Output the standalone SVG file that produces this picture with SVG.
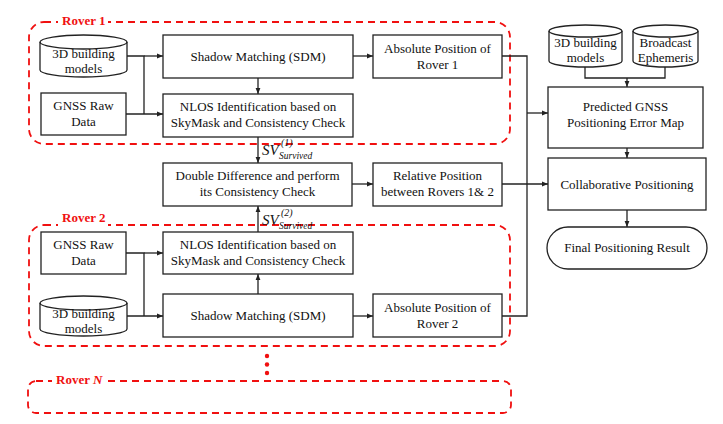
<svg xmlns="http://www.w3.org/2000/svg" width="723" height="424" viewBox="0 0 723 424">
<style>
.box{fill:#fff;stroke:#222;stroke-width:1.3}
.t{font-family:'Liberation Serif','DejaVu Serif',serif;font-size:13px;fill:#111;text-anchor:middle}
.rv{fill:none;stroke:#f01010;stroke-width:1.8;stroke-dasharray:7,5}
.rl{font-family:'Liberation Serif','DejaVu Serif',serif;font-size:13px;font-weight:bold;fill:#f01010}
.c{fill:none;stroke:#222;stroke-width:1.3}
.sv{font-family:'Liberation Serif','DejaVu Serif',serif;font-style:italic;fill:#111}
</style>
<defs>
<marker id="a" viewBox="0 0 10 10" refX="10" refY="5" markerWidth="6" markerHeight="6" orient="auto" markerUnits="userSpaceOnUse"><path d="M0,1 L10,5 L0,9 z" fill="#222"/></marker>
</defs>
<rect width="723" height="424" fill="#fff"/>
<g id="rover1">
<rect class="rv" x="29" y="22" width="481" height="122" rx="15"/>
<rect x="58" y="12" width="50" height="16" fill="#fff"/>
<text class="rl" x="62" y="25">Rover 1</text>
</g>
<g id="rover2">
<rect class="rv" x="29" y="225" width="481" height="121" rx="15"/>
<rect x="58" y="210" width="50" height="16" fill="#fff"/>
<text class="rl" x="62" y="222">Rover 2</text>
</g>
<g id="roverN">
<rect class="rv" x="28" y="381" width="483" height="32" rx="8"/>
<rect x="52" y="373" width="54" height="14" fill="#fff"/>
<text class="rl" x="56" y="384">Rover <tspan font-style="italic">N</tspan></text>
<circle cx="267" cy="356" r="2.2" fill="#f01010"/>
<circle cx="267" cy="364.5" r="2.2" fill="#f01010"/>
<circle cx="267" cy="373" r="2.2" fill="#f01010"/>
</g>
<g id="connectors">
<path class="c" d="M127,56 H144 V114"/>
<path class="c" d="M126,114 H163" marker-end="url(#a)"/>
<path class="c" d="M144,56 H163" marker-end="url(#a)"/>
<path class="c" d="M258,78 V94" marker-end="url(#a)"/>
<path class="c" d="M353,56 H373" marker-end="url(#a)"/>
<path class="c" d="M258,137 V163" marker-end="url(#a)"/>
<path class="c" d="M258,232 V206" marker-end="url(#a)"/>
<path class="c" d="M352,184 H373" marker-end="url(#a)"/>
<path class="c" d="M126,253 H144 V316"/>
<path class="c" d="M144,253 H163" marker-end="url(#a)"/>
<path class="c" d="M127,316 H163" marker-end="url(#a)"/>
<path class="c" d="M258,294 V274" marker-end="url(#a)"/>
<path class="c" d="M353,316 H373" marker-end="url(#a)"/>
<path class="c" d="M502,56 H527 V316 H502"/>
<path class="c" d="M527,113 H548" marker-end="url(#a)"/>
<path class="c" d="M502,184 H548" marker-end="url(#a)"/>
<path class="c" d="M585,67 V78 H665 V67"/>
<path class="c" d="M627,78 V87" marker-end="url(#a)"/>
<path class="c" d="M627,148 V158" marker-end="url(#a)"/>
<path class="c" d="M627,210 V227" marker-end="url(#a)"/>
</g>
<g id="sv1">
<text class="sv" x="262" y="155" font-size="15">SV</text>
<text class="sv" x="281" y="146" font-size="10" font-style="normal">(1)</text>
<text class="sv" x="279" y="159" font-size="9.5">Survived</text>
</g>
<g id="sv2">
<text class="sv" x="262" y="225" font-size="15">SV</text>
<text class="sv" x="281" y="216" font-size="10" font-style="normal">(2)</text>
<text class="sv" x="279" y="229" font-size="9.5">Survived</text>
</g>
<g id="db1">
<path class="box" d="M40,42 A43.5,7 0 0 1 127,42 V70 A43.5,7 0 0 1 40,70 Z"/>
<path class="c" d="M40,42 A43.5,7 0 0 0 127,42"/>
<text class="t" x="83.5" y="58">3D building</text>
<text class="t" x="83.5" y="73">models</text>
</g>
<g id="gnss1">
<rect class="box" x="41" y="93" width="85" height="42"/>
<text class="t" x="83.5" y="110">GNSS Raw</text>
<text class="t" x="83.5" y="126">Data</text>
</g>
<g id="sdm1">
<rect class="box" x="163" y="35" width="190" height="43"/>
<text class="t" x="258" y="61">Shadow Matching (SDM)</text>
</g>
<g id="nlos1">
<rect class="box" x="163" y="94" width="190" height="43"/>
<text class="t" x="258" y="111">NLOS Identification based on</text>
<text class="t" x="258" y="127">SkyMask and Consistency Check</text>
</g>
<g id="abs1">
<rect class="box" x="373" y="35" width="129" height="43"/>
<text class="t" x="437.5" y="53">Absolute Position of</text>
<text class="t" x="437.5" y="69">Rover 1</text>
</g>
<g id="dd">
<rect class="box" x="163" y="163" width="189" height="43"/>
<text class="t" x="257.5" y="180">Double Difference and perform</text>
<text class="t" x="257.5" y="196">its Consistency Check</text>
</g>
<g id="rel">
<rect class="box" x="373" y="163" width="129" height="43"/>
<text class="t" x="437.5" y="180">Relative Position</text>
<text class="t" x="437.5" y="196">between Rovers 1&amp; 2</text>
</g>
<g id="gnss2">
<rect class="box" x="41" y="232" width="85" height="42"/>
<text class="t" x="83.5" y="249">GNSS Raw</text>
<text class="t" x="83.5" y="265">Data</text>
</g>
<g id="nlos2">
<rect class="box" x="163" y="232" width="190" height="42"/>
<text class="t" x="258" y="249">NLOS Identification based on</text>
<text class="t" x="258" y="265">SkyMask and Consistency Check</text>
</g>
<g id="db2">
<path class="box" d="M40,303 A43.5,7 0 0 1 127,303 V329 A43.5,7 0 0 1 40,329 Z"/>
<path class="c" d="M40,303 A43.5,7 0 0 0 127,303"/>
<text class="t" x="83.5" y="318">3D building</text>
<text class="t" x="83.5" y="333">models</text>
</g>
<g id="sdm2">
<rect class="box" x="163" y="294" width="190" height="43"/>
<text class="t" x="258" y="320">Shadow Matching (SDM)</text>
</g>
<g id="abs2">
<rect class="box" x="373" y="294" width="129" height="43"/>
<text class="t" x="437.5" y="312">Absolute Position of</text>
<text class="t" x="437.5" y="328">Rover 2</text>
</g>
<g id="db3">
<path class="box" d="M549,31 A36.5,6 0 0 1 622,31 V61 A36.5,6 0 0 1 549,61 Z"/>
<path class="c" d="M549,31 A36.5,6 0 0 0 622,31"/>
<text class="t" x="585.5" y="47">3D building</text>
<text class="t" x="585.5" y="62">models</text>
</g>
<g id="eph">
<path class="box" d="M633,31 A32.5,6 0 0 1 698,31 V61 A32.5,6 0 0 1 633,61 Z"/>
<path class="c" d="M633,31 A32.5,6 0 0 0 698,31"/>
<text class="t" x="665.5" y="47">Broadcast</text>
<text class="t" x="665.5" y="62">Ephemeris</text>
</g>
<g id="pred">
<rect class="box" x="548" y="87" width="155" height="61"/>
<text class="t" x="625.5" y="111">Predicted GNSS</text>
<text class="t" x="625.5" y="127">Positioning Error Map</text>
</g>
<g id="collab">
<rect class="box" x="548" y="158" width="158" height="52"/>
<text class="t" x="627" y="189">Collaborative Positioning</text>
</g>
<g id="final">
<rect class="box" x="547" y="227" width="160" height="42" rx="21"/>
<text class="t" x="627" y="252">Final Positioning Result</text>
</g>
</svg>
